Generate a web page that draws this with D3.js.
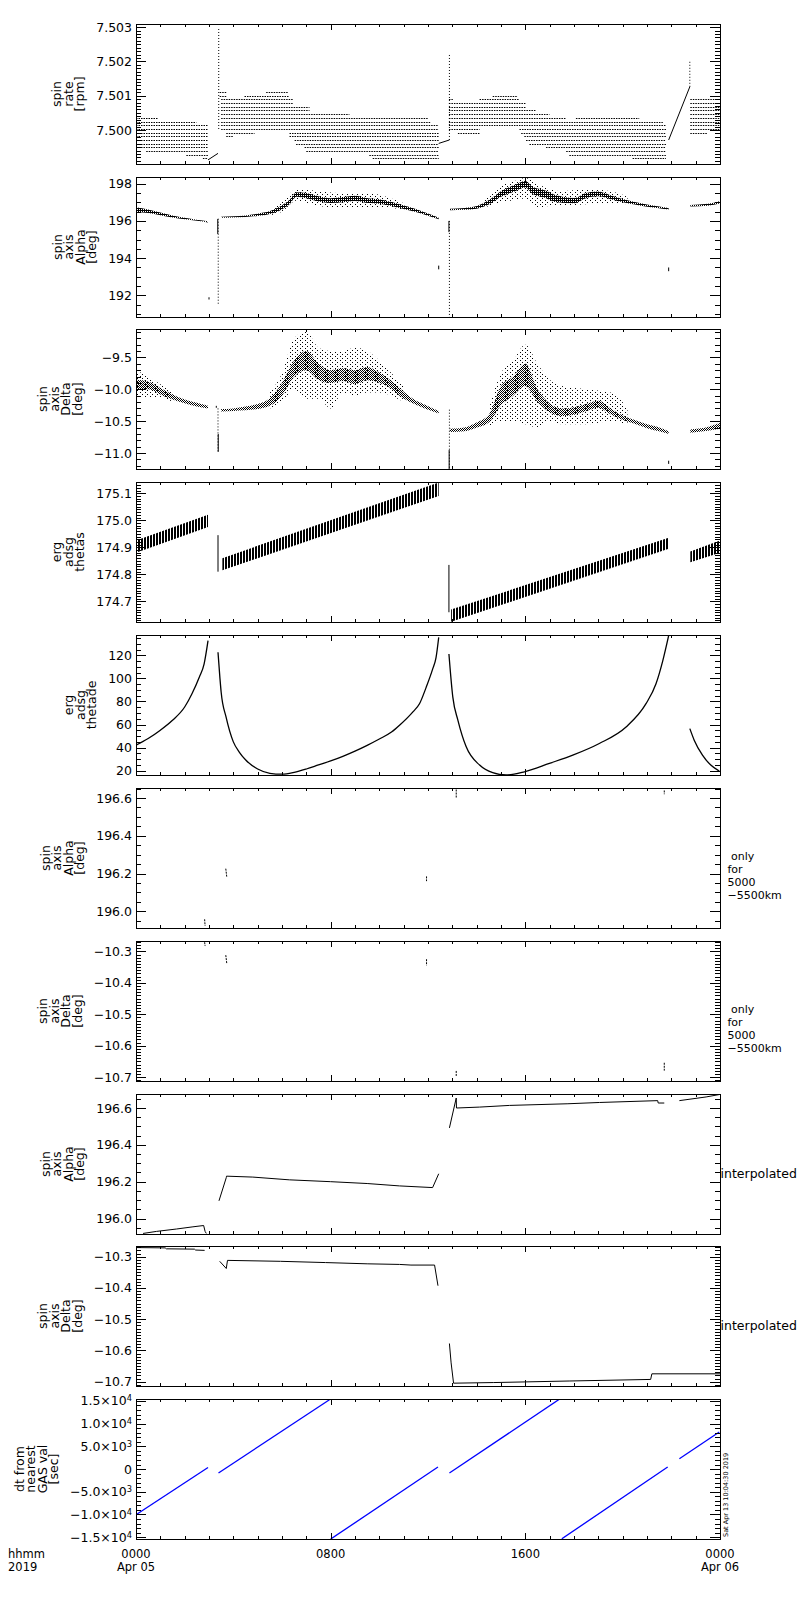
<!DOCTYPE html>
<html>
<head>
<meta charset="utf-8">
<script src="https://cdn.jsdelivr.net/npm/d3@7"></script>
<style>
body { margin: 0; background: #fff; }
svg { display: block; }
text { font-family: "DejaVu Sans", sans-serif; }
</style>
</head>
<body>
<script>

// ---- time axis (hours since 2019-04-05 00:00) ----
var hours = [0, 8, 16, 24];
var hourLabels = [["0000", "Apr 05"], ["0800"], ["1600"], ["0000", "Apr 06"]];

// ---- panel 1: spin rate [rpm] ----
var rateDomain = [7.49901, 7.50309];
var rateTicks = [7.500, 7.501, 7.502, 7.503];
var rateTickLabels = ["7.500", "7.501", "7.502", "7.503"];
// quantized levels: [t start, t end, value]
var rateRuns = [
  [0, 0.9, 7.50035], [0, 2.48, 7.50024], [0, 2.96, 7.50014], [0, 2.96, 7.50003],
  [0, 2.96, 7.49992], [0, 2.96, 7.49982], [0, 2.96, 7.49971], [0, 2.96, 7.49960],
  [0, 2.96, 7.49950], [0.42, 2.96, 7.49939], [2.07, 2.96, 7.49928], [2.75, 2.96, 7.49918],
  [3.44, 3.71, 7.50110], [5.35, 6.24, 7.50110], [3.44, 3.71, 7.50100], [4.46, 6.31, 7.50100],
  [3.50, 6.45, 7.50089], [3.50, 6.45, 7.50078], [3.50, 7.13, 7.50068], [3.50, 7.13, 7.50057],
  [3.50, 8.77, 7.50046], [3.50, 11.99, 7.50035], [3.50, 12.13, 7.50024], [3.50, 12.44, 7.50014],
  [3.50, 12.44, 7.50003], [3.71, 4.87, 7.49992], [6.31, 12.44, 7.49992], [3.71, 3.98, 7.49982],
  [6.31, 12.44, 7.49982], [6.52, 12.44, 7.49971], [6.58, 12.44, 7.49960], [6.93, 12.44, 7.49950],
  [7.00, 12.44, 7.49939], [9.59, 12.44, 7.49928], [9.73, 12.44, 7.49918],
  [14.66, 15.69, 7.50100], [12.86, 13.02, 7.50089], [14.12, 15.76, 7.50089], [12.86, 16.03, 7.50078],
  [12.86, 16.03, 7.50068], [12.86, 16.44, 7.50057], [12.86, 16.99, 7.50046], [12.86, 17.68, 7.50035],
  [18.08, 20.68, 7.50035], [12.86, 21.65, 7.50024], [12.86, 21.78, 7.50014], [12.86, 14.12, 7.50003],
  [15.76, 21.78, 7.50003], [13.23, 14.12, 7.49992], [15.83, 21.78, 7.49992], [15.96, 21.78, 7.49982],
  [16.03, 21.78, 7.49971], [16.17, 21.78, 7.49960], [16.85, 21.78, 7.49950], [17.68, 21.78, 7.49939],
  [17.81, 21.78, 7.49928], [20.41, 21.78, 7.49918],
  [22.78, 23.97, 7.50089], [22.78, 23.97, 7.50078], [22.78, 23.97, 7.50068], [22.78, 23.97, 7.50057],
  [22.78, 23.97, 7.50046], [22.78, 23.97, 7.50035], [22.78, 23.97, 7.50024], [22.78, 23.97, 7.50014],
  [22.78, 23.97, 7.50003], [22.78, 23.49, 7.49992]
];
var rateSpikes = [[3.40, 7.50003, 7.50300], [12.88, 7.49971, 7.50223], [22.76, 7.50126, 7.50203]];
var rateJumps = [[2.96, 7.49913, 3.37, 7.49932], [12.44, 7.49961, 12.88, 7.49971], [21.89, 7.49971, 22.76, 7.50126]];

// ---- panel 2: spin axis Alpha [deg] ----
var alphaDomain = [190.84, 198.36];
var alphaTicks = [192, 194, 196, 198];
var alphaTickLabels = ["192", "194", "196", "198"];
// bands: [t, low, high]
var alphaCore = [
  [[0, 196.47, 196.73], [0.5, 196.42, 196.62], [1.0, 196.31, 196.45], [1.5, 196.19, 196.29],
   [2.0, 196.09, 196.17], [2.5, 196.01, 196.07], [2.96, 195.92, 195.98]],
  [[3.5, 196.17, 196.23], [4.0, 196.19, 196.25], [4.5, 196.21, 196.29], [5.0, 196.27, 196.39],
   [5.5, 196.37, 196.53], [6.0, 196.62, 196.84], [6.3, 196.88, 197.12], [6.6, 197.3, 197.54],
   [7.0, 197.22, 197.5], [7.5, 197.04, 197.32], [8.0, 196.96, 197.22], [8.5, 197.0, 197.28],
   [9.0, 197.07, 197.35], [9.5, 196.96, 197.22], [10.0, 196.92, 197.16], [10.5, 196.8, 197.02],
   [10.83, 196.7, 196.9], [11.5, 196.48, 196.64], [12.0, 196.28, 196.4], [12.44, 196.09, 196.17]],
  [[12.9, 196.58, 196.66], [13.5, 196.6, 196.7], [14.0, 196.66, 196.8], [14.5, 196.88, 197.12],
   [15.0, 197.3, 197.6], [15.5, 197.55, 197.9], [16.0, 197.8, 198.15], [16.3, 197.45, 197.83],
   [16.8, 197.25, 197.65], [17.3, 197.0, 197.36], [18.0, 196.95, 197.23], [18.5, 197.22, 197.5],
   [19.0, 197.32, 197.58], [19.5, 197.16, 197.38], [20.0, 197.0, 197.18], [20.5, 196.88, 197.02],
   [21.0, 196.76, 196.88], [21.5, 196.68, 196.78], [21.89, 196.61, 196.69]],
  [[22.78, 196.78, 196.86], [23.5, 196.82, 196.92], [24, 196.93, 197.07]]
];
var alphaHalo = [
  [[5.5, 196.3, 196.6], [6.0, 196.5, 197.0], [6.6, 197.1, 197.7], [7.5, 196.8, 197.6],
   [8.5, 196.7, 197.5], [9.5, 196.75, 197.5], [10.5, 196.7, 197.2], [11.0, 196.6, 196.95]],
  [[14.3, 196.7, 197.1], [15.0, 197.0, 197.9], [15.5, 197.1, 198.1], [16.0, 197.2, 198.3],
   [16.5, 196.7, 198.0], [17.0, 196.8, 197.7], [17.5, 196.8, 197.6], [18.5, 196.9, 197.7],
   [19.5, 196.95, 197.6], [20.2, 196.9, 197.3]]
];
var alphaSpikes = [[3.38, 196.12, 191.5], [12.88, 196.0, 190.84]];
var alphaDashes = [[3.36, 196.1, 195.3], [12.86, 196.0, 195.4], [3.0, 191.9, 191.78],
  [12.44, 193.6, 193.4], [21.89, 193.5, 193.3]];

// ---- panel 3: spin axis Delta [deg] ----
var deltaDomain = [-11.25, -9.055];
var deltaTicks = [-11.0, -10.5, -10.0, -9.5];
var deltaTickLabels = ["\u221211.0", "\u221210.5", "\u221210.0", "\u22129.5"];
var deltaCore = [
  [[0, -10.0, -9.85], [0.5, -10.0, -9.88], [1.0, -10.08, -9.98], [1.5, -10.16, -10.08],
   [2.0, -10.22, -10.16], [2.5, -10.27, -10.21], [2.96, -10.3, -10.26]],
  [[3.5, -10.35, -10.31], [4.0, -10.34, -10.30], [4.5, -10.33, -10.27], [5.0, -10.31, -10.23],
   [5.5, -10.26, -10.14], [6.0, -10.1, -9.9], [6.5, -9.8, -9.55], [7.0, -9.7, -9.4],
   [7.5, -9.85, -9.6], [8.0, -9.9, -9.7], [8.5, -9.87, -9.67], [9.0, -9.92, -9.7],
   [9.5, -9.86, -9.65], [10.0, -9.9, -9.74], [10.5, -9.99, -9.87], [10.83, -10.1, -9.98],
   [11.38, -10.22, -10.15], [11.92, -10.31, -10.25], [12.44, -10.38, -10.34]],
  [[12.9, -10.67, -10.62], [13.5, -10.66, -10.6], [14.0, -10.6, -10.52], [14.5, -10.52, -10.40],
   [15.0, -10.25, -9.95], [15.5, -10.1, -9.8], [16.0, -9.95, -9.6], [16.5, -10.2, -10.0],
   [17.0, -10.36, -10.22], [17.5, -10.42, -10.3], [18.0, -10.4, -10.28], [18.5, -10.34, -10.23],
   [19.0, -10.29, -10.18], [19.5, -10.39, -10.3], [20.0, -10.48, -10.41], [20.5, -10.54, -10.48],
   [21.0, -10.61, -10.55], [21.5, -10.66, -10.6], [21.89, -10.7, -10.66]],
  [[22.78, -10.68, -10.63], [23.5, -10.65, -10.59], [24, -10.62, -10.53]]
];
var deltaHalo = [
  [[0, -10.1, -9.7], [0.5, -10.12, -9.8], [1.0, -10.12, -9.92], [1.5, -10.2, -10.04]],
  [[5.5, -10.3, -10.05], [6.0, -10.2, -9.75], [6.5, -10.0, -9.2], [7.0, -10.15, -9.1],
   [7.5, -10.15, -9.35], [8.0, -10.3, -9.4], [8.5, -10.05, -9.4], [9.0, -10.1, -9.35],
   [9.5, -10.05, -9.4], [10.0, -10.05, -9.55], [10.5, -10.1, -9.75], [11.0, -10.2, -9.95]],
  [[14.5, -10.6, -10.3], [15.0, -10.5, -9.75], [15.5, -10.5, -9.55], [16.0, -10.55, -9.3],
   [16.5, -10.6, -9.6], [17.0, -10.5, -9.85], [17.5, -10.55, -9.95], [18.5, -10.55, -10.0],
   [19.5, -10.5, -10.05], [20.2, -10.55, -10.3]]
];
var deltaSpikes = [[3.37, -10.3, -11.0], [12.88, -10.32, -11.25]];
var deltaDashes = [[3.38, -10.7, -10.98], [12.87, -10.95, -11.25], [21.89, -11.12, -11.17], [3.3, -10.26, -10.29]];

// ---- panel 4: erg adsg thetas ----
var thetasDomain = [174.624, 175.1415];
var thetasTicks = [174.7, 174.8, 174.9, 175.0, 175.1];
var thetasTickLabels = ["174.7", "174.8", "174.9", "175.0", "175.1"];
var thetasBand = [
  [[0, 174.88, 174.925], [2.96, 174.975, 175.02]],
  [[3.55, 174.815, 174.86], [12.44, 175.09, 175.14]],
  [[12.95, 174.625, 174.67], [21.89, 174.895, 174.935]],
  [[22.78, 174.845, 174.885], [24, 174.88, 174.925]]
];
var thetasSpikes = [[3.37, 174.945, 174.81], [12.86, 174.835, 174.66]];

// ---- panel 5: erg adsg thetade ----
var thetadeDomain = [16.3, 137.6];
var thetadeTicks = [20, 40, 60, 80, 100, 120];
var thetadeTickLabels = ["20", "40", "60", "80", "100", "120"];
var thetade = [
  [[0, 42.2], [0.5, 47.9], [1.0, 55.1], [1.5, 63.7], [2.0, 75.2], [2.3, 86.7], [2.6, 101],
   [2.8, 112.6], [2.96, 132.7]],
  [[3.37, 122.6], [3.45, 100], [3.5, 88], [3.7, 66.6], [4.0, 45], [4.25, 36], [4.5, 29.5],
   [5.0, 21.5], [5.5, 17.8], [6.0, 17.0], [6.5, 18.6], [7.0, 21.5], [7.5, 25], [8.0, 28.5],
   [8.5, 32.5], [9.0, 37], [9.5, 42], [10.0, 47.5], [10.5, 53.5], [10.83, 59.4], [11.38, 71],
   [11.65, 78], [11.92, 92], [12.19, 108], [12.33, 118], [12.44, 135.5]],
  [[12.86, 121.2], [13.02, 83.8], [13.23, 63.7], [13.57, 40.7], [14.12, 24.9], [14.66, 18.3],
   [15.21, 16.3], [15.96, 19.1], [16.99, 26.4], [17.95, 33.5], [19.04, 43.6], [20.14, 57.9],
   [20.96, 78.1], [21.37, 95.3], [21.65, 115.4], [21.89, 137]],
  [[22.76, 56.5], [22.94, 46.5], [23.28, 33.5], [23.62, 24.9], [23.97, 19.7]]
];

// ---- panels 6/7: only for 5000-5500km: [t0, v0, t1, v1] ----
var alphaOnlyDomain = [195.912, 196.653];
var alphaOnlyTicks = [196.0, 196.2, 196.4, 196.6];
var alphaOnlyTickLabels = ["196.0", "196.2", "196.4", "196.6"];
var alphaOnly = [[2.82, 195.958, 2.84, 195.923], [3.69, 196.226, 3.73, 196.182],
  [11.94, 196.185, 11.94, 196.16], [13.16, 196.645, 13.16, 196.6], [21.71, 196.64, 21.71, 196.62]];

var deltaOnlyDomain = [-10.712, -10.267];
var deltaOnlyTicks = [-10.7, -10.6, -10.5, -10.4, -10.3];
var deltaOnlyTickLabels = ["\u221210.7", "\u221210.6", "\u221210.5", "\u221210.4", "\u221210.3"];
var deltaOnly = [[2.82, -10.271, 2.84, -10.283], [3.69, -10.312, 3.73, -10.338],
  [11.94, -10.325, 11.94, -10.345], [13.16, -10.68, 13.16, -10.698], [21.71, -10.654, 21.71, -10.679]];

// ---- panels 8/9: interpolated ----
var alphaInterpDomain = [195.916, 196.676];
var alphaInterp = [
  [[0.29, 195.919], [0.84, 195.93], [1.66, 195.943], [2.34, 195.955], [2.78, 195.962],
   [2.84, 195.93], [2.89, 195.919]],
  [[3.41, 196.096], [3.71, 196.222], [3.72, 196.23], [4.8, 196.225], [6.3, 196.21], [8.0, 196.2],
   [9.5, 196.19], [10.83, 196.177], [12.19, 196.168], [12.44, 196.243]],
  [[12.88, 196.492], [13.16, 196.654], [13.17, 196.6], [14.12, 196.605], [15.35, 196.614],
   [17.75, 196.623], [19.05, 196.63], [21.44, 196.64], [21.46, 196.627], [21.71, 196.627]],
  [[22.33, 196.64], [23.43, 196.66], [23.97, 196.673]]
];
var deltaInterpDomain = [-10.714, -10.266];
var deltaInterp = [
  [[0, -10.271], [1.2, -10.272], [1.25, -10.275], [2.4, -10.276], [2.45, -10.279], [2.82, -10.28]],
  [[3.44, -10.315], [3.71, -10.338], [3.76, -10.312], [5.94, -10.315], [7.79, -10.319],
   [9.5, -10.323], [10.83, -10.325], [11.3, -10.327], [12.27, -10.327], [12.41, -10.393]],
  [[12.88, -10.578], [12.95, -10.64], [13.05, -10.705], [14.7, -10.703], [17.8, -10.698],
   [21.15, -10.693], [21.2, -10.675], [24, -10.675]]
];

// ---- panel 10: dt from nearest GAS val [sec] ----
var dtDomain = [-15400, 15420];
var dtTicks = [-15000, -10000, -5000, 0, 5000, 10000, 15000];
var dtTickLabels = ["\u22121.5\u00d710^4", "\u22121.0\u00d710^4", "\u22125.0\u00d710^3", "0",
  "5.0\u00d710^3", "1.0\u00d710^4", "1.5\u00d710^4"];
var dtLines = [
  [[0, -10066], [2.96, 352]],
  [[3.39, -881], [7.95, 15264]],
  [[8.0, -15418], [12.41, 440]],
  [[12.88, -881], [17.43, 15485]],
  [[17.5, -15352], [21.85, 440]],
  [[22.33, 2269], [23.97, 8150]]
];

var alphaTitle = ["spin", "axis", "Alpha", "[deg]"];
var deltaTitle = ["spin", "axis", "Delta", "[deg]"];
var onlyNote = [" only", "for", "5000", "\u22125500km"];
var stamp = "Sat Apr 13 10:04:30 2019";

// ---------------------------------------------------------------
var left = 136, right = 720, top0 = 23.7, pitch = 152.84, ph = 140;
var fontSize = 12.5;

var svg = d3.select("body").append("svg")
  .attr("width", 800)
  .attr("height", 1600)
  .attr("font-family", "DejaVu Sans");

var x = d3.scaleLinear().domain([0, 24]).range([left, right]);

var defs = svg.append("defs");
function pattern(id, w, h, dots) {
  var p = defs.append("pattern").attr("id", id)
    .attr("patternUnits", "userSpaceOnUse").attr("width", w).attr("height", h);
  dots.forEach(function(r) {
    p.append("rect").attr("x", r[0]).attr("y", r[1])
      .attr("width", r[2]).attr("height", r[3]).attr("fill", "#000");
  });
}
pattern("core", 2, 2, [[0, 0, 2, 1], [0, 1, 1, 1]]);
pattern("mid", 2, 2, [[0, 0, 1, 1], [1, 1, 1, 1]]);
pattern("halo", 5, 4, [[0, 0, 1, 1], [2, 2, 1, 1]]);
pattern("hatch", 3, 2, [[0, 0, 2, 2]]);

function bands(plot, y, segs, fill) {
  var area = d3.area()
    .x(function(d) { return x(d[0]); })
    .y0(function(d) { return y(d[1]); })
    .y1(function(d) { return y(d[2]); })
    .curve(d3.curveMonotoneX);
  plot.selectAll(null).data(segs).enter().append("path")
    .attr("d", area)
    .attr("fill", fill);
}

function paths(plot, y, segs, color, width, curve) {
  var line = d3.line()
    .x(function(d) { return x(d[0]); })
    .y(function(d) { return y(d[1]); })
    .curve(curve || d3.curveLinear);
  plot.selectAll(null).data(segs).enter().append("path")
    .attr("d", line)
    .attr("fill", "none")
    .attr("stroke", color)
    .attr("stroke-width", width);
}

function vticks(plot, y, list, dash) {
  plot.selectAll(null).data(list).enter().append("line")
    .attr("x1", function(d) { return x(d[0]); })
    .attr("x2", function(d) { return x(d[0]); })
    .attr("y1", function(d) { return y(d[1]); })
    .attr("y2", function(d) { return y(d[2]); })
    .attr("stroke", "#000")
    .attr("stroke-width", 1)
    .attr("stroke-dasharray", dash);
}

function segments(plot, y, list, dash) {
  plot.selectAll(null).data(list).enter().append("line")
    .attr("x1", function(d) { return x(d[0]); })
    .attr("y1", function(d) { return y(d[1]); })
    .attr("x2", function(d) { return x(d[2]); })
    .attr("y2", function(d) { return y(d[3]); })
    .attr("stroke", "#000")
    .attr("stroke-width", 1)
    .attr("stroke-dasharray", dash);
}

// one text element, several lines as tspans
function block(sel, lines, step, anchorX) {
  lines.forEach(function(s, k) {
    sel.append("tspan")
      .attr("x", anchorX)
      .attr("dy", k === 0 ? 0 : step)
      .text(s);
  });
  return sel;
}

var panels = [
  { domain: rateDomain, ticks: rateTicks, labels: rateTickLabels, minor: 0.0001,
    title: ["spin", "rate", "[rpm]"],
    draw: function(plot, y) {
      plot.selectAll(null).data(rateRuns).enter().append("line")
        .attr("x1", function(d) { return x(d[0]); })
        .attr("x2", function(d) { return x(d[1]); })
        .attr("y1", function(d) { return Math.round(y(d[2])) + 0.5; })
        .attr("y2", function(d) { return Math.round(y(d[2])) + 0.5; })
        .attr("stroke", "#000")
        .attr("stroke-width", 1)
        .attr("stroke-dasharray", "1.5 1");
      vticks(plot, y, rateSpikes, "1 2");
      segments(plot, y, rateJumps, null);
    } },
  { domain: alphaDomain, ticks: alphaTicks, labels: alphaTickLabels, minor: 0.5,
    title: alphaTitle,
    draw: function(plot, y) {
      bands(plot, y, alphaHalo, "url(#halo)");
      bands(plot, y, alphaCore, "url(#core)");
      vticks(plot, y, alphaSpikes, "1 2");
      vticks(plot, y, alphaDashes, null);
    } },
  { domain: deltaDomain, ticks: deltaTicks, labels: deltaTickLabels, minor: 0.1,
    title: deltaTitle,
    draw: function(plot, y) {
      bands(plot, y, deltaHalo, "url(#halo)");
      bands(plot, y, deltaCore, "url(#mid)");
      vticks(plot, y, deltaSpikes, "1 2");
      vticks(plot, y, deltaDashes, null);
    } },
  { domain: thetasDomain, ticks: thetasTicks, labels: thetasTickLabels, minor: 0.01,
    title: ["erg", "adsg", "thetas"],
    draw: function(plot, y) {
      bands(plot, y, thetasBand, "url(#hatch)");
      vticks(plot, y, thetasSpikes, null);
    } },
  { domain: thetadeDomain, ticks: thetadeTicks, labels: thetadeTickLabels, minor: 5,
    title: ["erg", "adsg", "thetade"],
    draw: function(plot, y) {
      paths(plot, y, thetade, "#000", 1.3, d3.curveMonotoneX);
    } },
  { domain: alphaOnlyDomain, ticks: alphaOnlyTicks, labels: alphaOnlyTickLabels, minor: 0.05,
    title: alphaTitle, note: onlyNote, noteDy: 72,
    draw: function(plot, y) { segments(plot, y, alphaOnly, "2 1"); } },
  { domain: deltaOnlyDomain, ticks: deltaOnlyTicks, labels: deltaOnlyTickLabels, minor: 0.01,
    title: deltaTitle, note: onlyNote, noteDy: 72,
    draw: function(plot, y) { segments(plot, y, deltaOnly, "2 1"); } },
  { domain: alphaInterpDomain, ticks: alphaOnlyTicks, labels: alphaOnlyTickLabels, minor: 0.05,
    title: alphaTitle, note: ["interpolated"], noteDy: 83.5, noteX: right + 0.5, noteSize: fontSize,
    draw: function(plot, y) { paths(plot, y, alphaInterp, "#000", 1); } },
  { domain: deltaInterpDomain, ticks: deltaOnlyTicks, labels: deltaOnlyTickLabels, minor: 0.01,
    title: deltaTitle, note: ["interpolated"], noteDy: 83.5, noteX: right + 0.5, noteSize: fontSize,
    draw: function(plot, y) { paths(plot, y, deltaInterp, "#000", 1); } },
  { domain: dtDomain, ticks: dtTicks, labels: dtTickLabels, minor: 1000,
    title: ["dt from", "nearest", "GAS val", "[sec]"],
    draw: function(plot, y) { paths(plot, y, dtLines, "#0000ff", 1.3); } }
];

function minorTicks(domain, step) {
  var k0 = Math.ceil(domain[0] / step - 1e-6), k1 = Math.floor(domain[1] / step + 1e-6);
  return d3.range(k0, k1 + 1).map(function(k) { return k * step; });
}

function tidy(g) {
  g.select(".domain").remove();
  g.attr("font-family", "DejaVu Sans").attr("font-size", fontSize);
  g.selectAll(".tick line").attr("stroke", "#000").attr("shape-rendering", "crispEdges");
  g.selectAll(".tick text").attr("fill", "#000");
}

var hourMinor = d3.range(0, 25);
var lastBottom = 0;

panels.forEach(function(p, i) {
  var y0 = Math.round(top0 + i * pitch);
  var y1 = y0 + ph;
  lastBottom = y1;
  var y = d3.scaleLinear().domain(p.domain).range([y1, y0]);

  defs.append("clipPath").attr("id", "clip" + i)
    .append("rect")
    .attr("x", left).attr("y", y0)
    .attr("width", right - left).attr("height", ph);

  var plot = svg.append("g").attr("clip-path", "url(#clip" + i + ")");
  p.draw(plot, y);

  var minor = minorTicks(p.domain, p.minor);

  // left axis
  var axL = svg.append("g").attr("transform", "translate(" + left + ",0)")
    .call(d3.axisLeft(y).tickValues(p.ticks)
      .tickFormat(function(d, j) { return p.labels[j]; })
      .tickSize(-10).tickSizeOuter(0).tickPadding(4))
    .call(tidy);
  svg.append("g").attr("transform", "translate(" + left + ",0)")
    .call(d3.axisLeft(y).tickValues(minor).tickFormat("").tickSize(-5).tickSizeOuter(0))
    .call(tidy);

  // exponent labels like 1.5x10^4
  axL.selectAll(".tick text").each(function() {
    var t = d3.select(this), s = t.text();
    if (s.indexOf("^") >= 0) {
      var parts = s.split("^");
      t.text(parts[0]);
      t.append("tspan").attr("dy", "-0.5em").attr("font-size", fontSize * 0.66).text(parts[1]);
    }
  });

  // right axis
  svg.append("g").attr("transform", "translate(" + right + ",0)")
    .call(d3.axisRight(y).tickValues(p.ticks).tickFormat("").tickSize(-10).tickSizeOuter(0))
    .call(tidy);
  svg.append("g").attr("transform", "translate(" + right + ",0)")
    .call(d3.axisRight(y).tickValues(minor).tickFormat("").tickSize(-5).tickSizeOuter(0))
    .call(tidy);

  // top and bottom time axes
  [[d3.axisTop, y0], [d3.axisBottom, y1]].forEach(function(a) {
    svg.append("g").attr("transform", "translate(0," + a[1] + ")")
      .call(a[0](x).tickValues(hourMinor).tickFormat("").tickSize(-3).tickSizeOuter(0))
      .call(tidy);
    svg.append("g").attr("transform", "translate(0," + a[1] + ")")
      .call(a[0](x).tickValues(hours).tickFormat("").tickSize(-6).tickSizeOuter(0))
      .call(tidy);
  });

  // frame
  svg.append("rect")
    .attr("x", left).attr("y", y0)
    .attr("width", right - left).attr("height", ph)
    .attr("fill", "none").attr("stroke", "#000").attr("stroke-width", 1)
    .attr("shape-rendering", "crispEdges");

  // rotated y title, right edge placed from the tick labels
  var labelLeft = left + d3.min(axL.selectAll(".tick text").nodes(), function(n) { return n.getBBox().x; });
  var n = p.title.length;
  var cy = (y0 + y1) / 2;
  var bx = labelLeft - 12 - (n - 1) * 11.5;
  block(svg.append("text")
    .attr("transform", "translate(" + bx + "," + cy + ") rotate(-90)")
    .attr("text-anchor", "middle")
    .attr("font-size", fontSize), p.title, 11.5, 0);

  // right side note
  if (p.note) {
    var nx = p.noteX || 727.5;
    block(svg.append("text")
      .attr("x", nx)
      .attr("y", y0 + p.noteDy)
      .attr("font-size", p.noteSize || 11)
      .style("white-space", "pre"), p.note, 12.9, nx);
  }
});

// time labels under the last panel (two short lines each)
var bottomSize = 11.5, bottomStep = 13.5;
hours.forEach(function(h, i) {
  block(svg.append("text")
    .attr("x", x(h))
    .attr("y", lastBottom + 18.5)
    .attr("text-anchor", "middle")
    .attr("font-size", bottomSize), hourLabels[i], bottomStep, x(h));
});
block(svg.append("text")
  .attr("x", 8)
  .attr("y", lastBottom + 18.5)
  .attr("font-size", bottomSize), ["hhmm", "2019"], bottomStep, 8);

// run time stamp
svg.append("text")
  .attr("transform", "translate(" + (right + 8) + "," + (lastBottom - 2) + ") rotate(-90)")
  .attr("font-size", 6.5)
  .text(stamp);

</script>
</body>
</html>
